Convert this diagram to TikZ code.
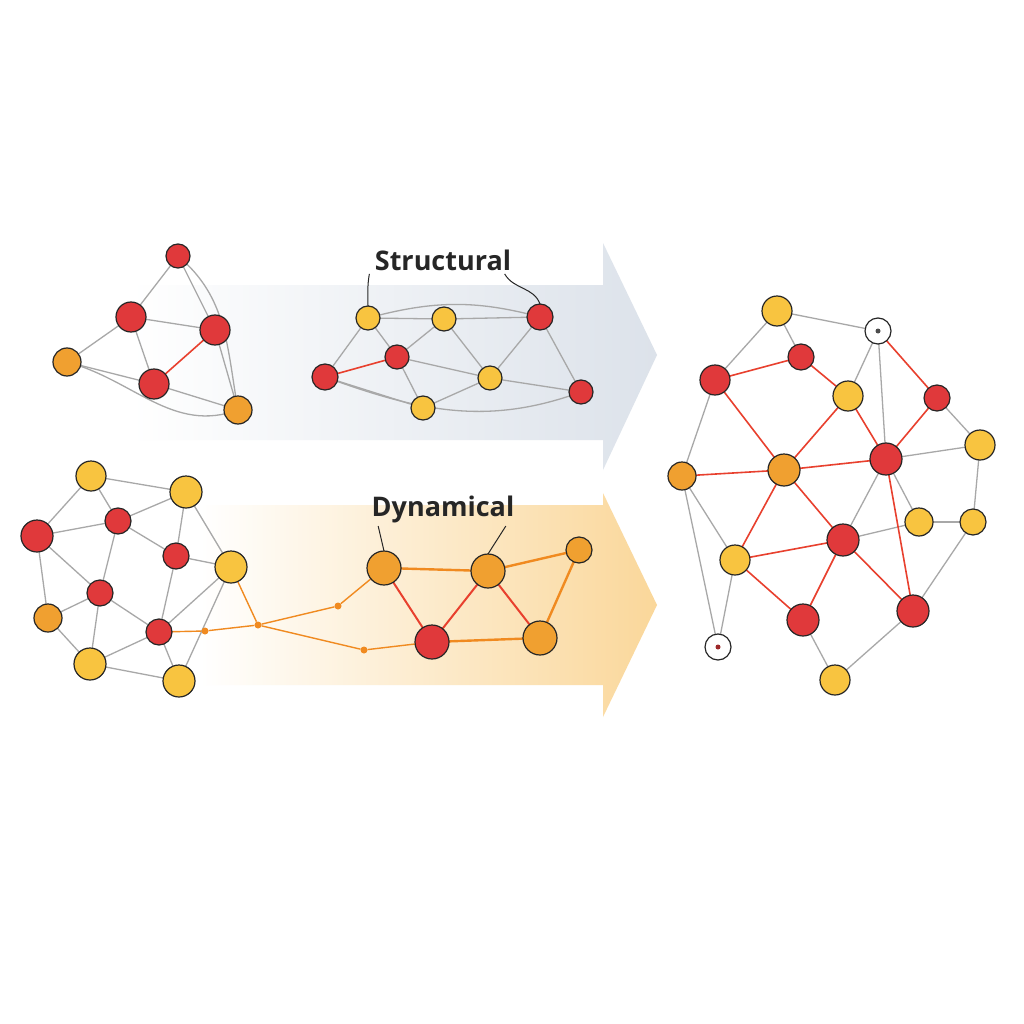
\documentclass[tikz,border=0pt]{standalone}
\usepackage{fontspec}
\setmainfont{Open Sans}
\definecolor{nred}{HTML}{E0393B}
\definecolor{nora}{HTML}{F0A030}
\definecolor{nyel}{HTML}{F8C440}
\definecolor{egray}{HTML}{A8A8A8}
\definecolor{ered}{HTML}{E8402E}
\definecolor{eora}{HTML}{F08A20}
\definecolor{bgray}{HTML}{DCE2EA}
\definecolor{borg}{HTML}{FAD79A}
\begin{document}
\begin{tikzpicture}[x=1pt,y=-1pt,
  g/.style={draw=egray,line width=1.3pt},
  r/.style={draw=ered,line width=1.6pt},
  o/.style={draw=eora,line width=1.8pt},
  dot/.style={circle,fill=eora,inner sep=0pt,minimum size=7pt},
  lab/.style={font=\bfseries\fontsize{27}{30}\selectfont,text=black!85}]
\useasboundingbox (0,0) rectangle (1024,1024);
\fill[white] (0,0) rectangle (1024,1024);
% arrows
\shade[left color=white,right color=bgray] (130,285) -- (603,285) -- (603,243) -- (657,355) -- (603,470) -- (603,440) -- (130,440) -- cycle;
\shade[left color=white,right color=borg] (200,505) -- (603,505) -- (603,493) -- (657,605) -- (603,717) -- (603,685) -- (200,685) -- cycle;
% coordinates
\foreach \n/\x/\y in {A1/178/256,A2/131/317,A3/215/330,A4/67/362,A5/154/384,A6/238/410,
 B1/368/318,B2/444/319,B3/540/317,B4/397/357,B5/490/378,B6/325/377,B7/423/408,B8/581/392,
 C1/91/476,C2/186/492,C3/37/536,C4/118/521,C5/176/556,C6/231/567,C7/100/593,C8/48/618,C9/159/632,C10/90/664,C11/179/681,
 D1/384/568,D2/488/571,D3/579/550,D4/432/642,D5/540/638,
 E1/777/311,E2/878/331,E3/801/357,E4/715/380,E5/848/396,E6/937/398,E7/980/445,E8/886/459,E9/784/470,E10/682/476,E11/919/522,E12/973/522,E13/843/540,E14/735/560,E15/803/620,E16/913/611,E17/718/647,E18/835/680}
  \coordinate (\n) at (\x,\y);
\foreach \a/\b in {A1/A2,A1/A3,A2/A4,A2/A5,A2/A3,A4/A5,A3/A6,A5/A6,
 B1/B2,B2/B3,B1/B6,B1/B4,B4/B2,B2/B5,B5/B3,B3/B8,B4/B7,B7/B5,B5/B8,B6/B7,B4/B5,
 C1/C2,C1/C3,C1/C4,C2/C4,C2/C5,C2/C6,C3/C4,C3/C7,C3/C8,C4/C7,C4/C5,C5/C6,C5/C9,C7/C8,C7/C9,C7/C10,C8/C10,C9/C10,C9/C11,C10/C11,C6/C11,C6/C9,
 E1/E4,E1/E2,E1/E3,E2/E5,E2/E8,E6/E7,E7/E8,E7/E12,E8/E11,E11/E12,E11/E13,E12/E16,E4/E10,E10/E14,E14/E17,E15/E18,E16/E18,E8/E13,E10/E17}
  \path[g] (\a) -- (\b);
\path[g] (A1) to[out=-40,in=100] (A6);
\path[g] (A4) to[out=-15,in=200] (A6);
\path[g] (B6) to[out=-20,in=200] (B8);
\path[g] (B1) to[out=15,in=165] (B3);
\foreach \a/\b in {A3/A5,B6/B4,E4/E3,E3/E5,E4/E9,E9/E5,E5/E8,E9/E8,E9/E13,E13/E16,E9/E14,E14/E15,E15/E13,E14/E13,E10/E9,E8/E6,E2/E6,E8/E16}
  \path[r] (\a) -- (\b);
\node[dot] (p1) at (205,631) {};
\node[dot] (p2) at (258,625) {};
\node[dot] (p3) at (338,606) {};
\node[dot] (p4) at (364,650) {};
\path[o,line width=1.4pt] (C6) -- (p2);
\path[o,line width=1.4pt] (C9) -- (p1) -- (p2) -- (p3) -- (D1);
\path[o,line width=1.4pt] (p2) -- (p4) -- (D4);
\foreach \a/\b in {D1/D2,D2/D3,D3/D5,D4/D5} \path[o,line width=2.4pt] (\a) -- (\b);
\foreach \a/\b in {D1/D4,D2/D4,D2/D5} \path[r,line width=2pt] (\a) -- (\b);
% nodes
\foreach \n/\s/\c in {A1/12/nred,A2/15/nred,A3/15/nred,A4/14/nora,A5/15/nred,A6/14/nora,
 B1/12/nyel,B2/12/nyel,B3/13/nred,B4/12/nred,B5/12/nyel,B6/13/nred,B7/12/nyel,B8/12/nred,
 C1/15/nyel,C2/16/nyel,C3/16/nred,C4/13/nred,C5/13/nred,C6/16/nyel,C7/13/nred,C8/14/nora,C9/13/nred,C10/16/nyel,C11/16/nyel,
 D1/17/nora,D2/17/nora,D3/13/nora,D4/17/nred,D5/17/nora,
 E1/15/nyel,E2/13/white,E3/13/nred,E4/15/nred,E5/15/nyel,E6/13/nred,E7/15/nyel,E8/16/nred,E9/16/nora,E10/14/nora,E11/14/nyel,E12/13/nyel,E13/16/nred,E14/15/nyel,E15/16/nred,E16/16/nred,E17/13/white,E18/15/nyel}
  \filldraw[fill=\c,draw=black!85,line width=1.2pt] (\n) circle (\s pt);
\fill[black!70] (E2) circle (2.5pt);
\fill[nred!70!black] (E17) circle (2.5pt);
% labels
\node[lab] (S) at (443,260) {Structural};
\node[lab] (Dy) at (443,509) {Dynamical};
\draw[black!85,line width=1pt] ([xshift=-2pt]S.south west) to[out=-100,in=90] ([yshift=12pt]B1);
\draw[black!85,line width=1pt] ([xshift=-10pt]S.south east) to[out=-60,in=110] ([yshift=13pt]B3);
\draw[black!85,line width=1pt] ([xshift=10pt]Dy.south west) -- ([yshift=17pt]D1);
\draw[black!85,line width=1pt] ([xshift=-12pt]Dy.south east) -- ([yshift=17pt]D2);
\end{tikzpicture}
\end{document}
